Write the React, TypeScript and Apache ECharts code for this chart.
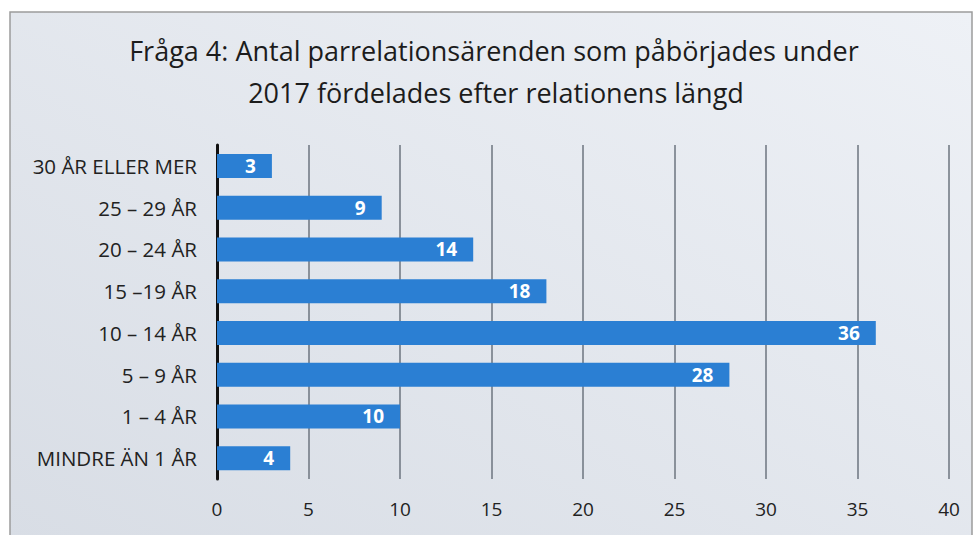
import React, { useEffect, useRef } from "react";
import * as echarts from "echarts";

const categories = [
  "MINDRE ÄN 1 ÅR",
  "1 – 4 ÅR",
  "5 – 9 ÅR",
  "10 – 14 ÅR",
  "15 –19 ÅR",
  "20 – 24 ÅR",
  "25 – 29 ÅR",
  "30 ÅR ELLER MER",
];
const values = [4, 10, 28, 36, 18, 14, 9, 3];
const titleLines = [
  "Fråga 4: Antal parrelationsärenden som påbörjades under",
  "2017 fördelades efter relationens längd",
];

const FONT = "'Open Sans', 'Noto Sans', sans-serif";

export default function App() {
  const ref = useRef<HTMLDivElement>(null);
  useEffect(() => {
    document.body.style.margin = "0";
    const chart = echarts.init(ref.current!, null, { renderer: "svg" });
    chart.setOption({
      animation: false,
      backgroundColor: "#ffffff",
      graphic: [
        {
          type: "rect",
          z: -10,
          shape: { x: 10, y: 12, width: 962, height: 530 },
          style: {
            fill: new echarts.graphic.LinearGradient(1, 0, 0, 1, [
              { offset: 0, color: "#eef1f6" },
              { offset: 1, color: "#d8dde5" },
            ]),
            stroke: "#9c9c9c",
            lineWidth: 1.5,
          },
        },
        {
          type: "text",
          x: 494,
          y: 50,
          style: {
            text: titleLines[0],
            font: `27px ${FONT}`,
            fill: "#1c1c1c",
            align: "center",
            verticalAlign: "middle",
          },
        },
        {
          type: "text",
          x: 496,
          y: 92,
          style: {
            text: titleLines[1],
            font: `27px ${FONT}`,
            fill: "#1c1c1c",
            align: "center",
            verticalAlign: "middle",
          },
        },
      ],
      grid: { left: 217, right: 28, top: 145, bottom: 56, containLabel: false },
      xAxis: {
        type: "value",
        min: 0,
        max: 40,
        interval: 5,
        axisLine: { show: false },
        axisTick: { show: false },
        axisLabel: {
          color: "#222",
          fontFamily: FONT,
          fontSize: 19,
          margin: 20,
        },
        splitLine: { show: true, lineStyle: { color: "#6d747f", width: 1.5 } },
      },
      yAxis: {
        type: "category",
        data: categories,
        axisLine: { show: true, lineStyle: { color: "#111", width: 3 } },
        axisTick: { show: false },
        axisLabel: {
          color: "#222",
          fontFamily: FONT,
          fontSize: 20.5,
          margin: 20,
        },
      },
      series: [
        {
          type: "bar",
          data: values,
          barWidth: 24,
          itemStyle: { color: "#2b7fd3" },
          label: {
            show: true,
            position: "insideRight",
            color: "#ffffff",
            fontFamily: FONT,
            fontWeight: "bold",
            fontSize: 19,
            distance: 16,
          },
        },
      ],
    });
    return () => chart.dispose();
  }, []);
  return (
    <div
      ref={ref}
      style={{ position: "fixed", left: 0, top: 0, width: 977, height: 535 }}
    />
  );
}
